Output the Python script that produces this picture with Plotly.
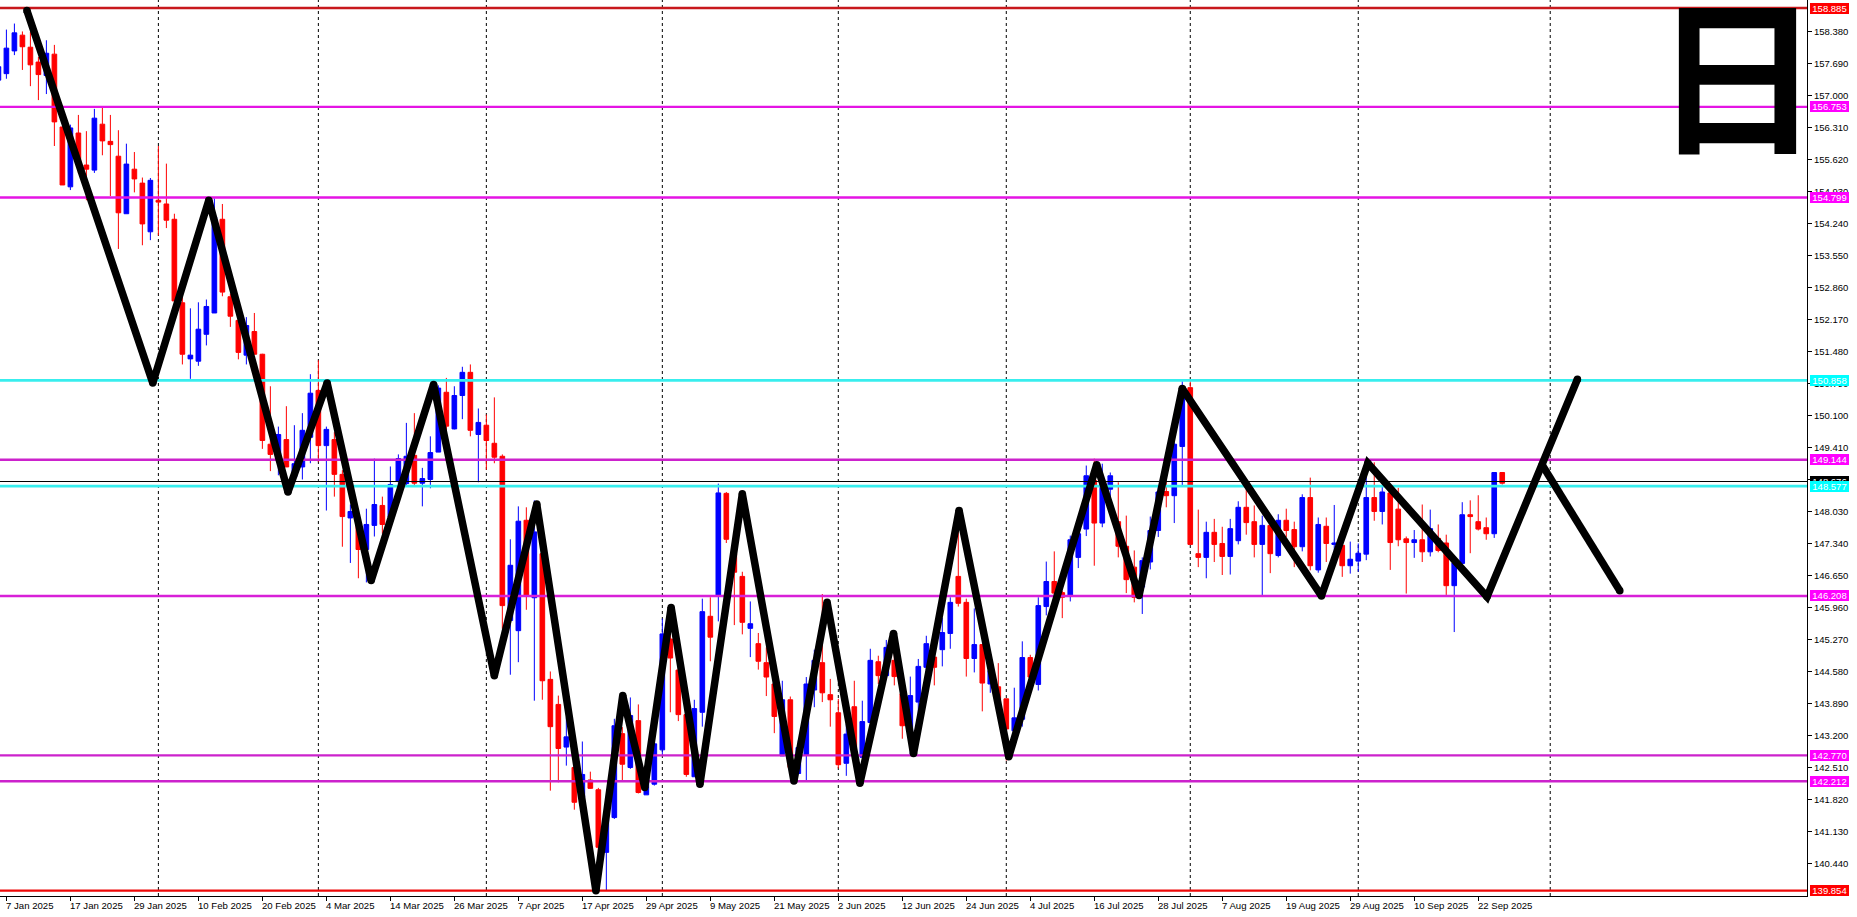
import plotly.graph_objects as go

bars = list(range(-1, 188))
opens = [157.33,
157.47,157.96,158.30,158.04,157.72,157.43,157.89,156.32,155.03,156.19,
155.50,155.39,156.38,156.01,155.69,154.45,155.41,155.11,154.06,154.74,
154.66,154.33,152.53,151.32,151.27,151.85,152.31,154.33,152.66,152.15,
151.40,151.91,151.42,149.48,149.13,149.58,148.77,148.99,149.63,150.64,
149.45,149.58,148.83,147.89,147.76,147.21,147.73,148.16,147.91,148.68,
148.63,149.24,148.64,148.72,149.31,150.60,149.81,150.53,151.03,149.69,
149.89,149.50,149.22,145.68,145.46,147.84,146.17,147.12,144.41,143.87,
142.95,142.51,141.87,142.24,142.03,140.68,141.43,143.24,142.51,143.52,
141.92,142.15,142.89,145.28,144.61,143.65,142.31,143.70,145.77,146.22,
148.42,147.12,146.63,145.51,145.18,144.77,144.31,142.76,143.97,142.38,
142.79,144.18,144.77,144.08,143.69,142.60,143.82,142.73,143.48,144.79,
144.49,144.82,144.10,143.16,143.92,144.67,144.89,145.05,145.40,146.63,
146.07,144.86,145.16,144.31,144.25,143.99,143.30,143.55,144.88,144.30,
145.98,146.52,146.28,146.22,147.04,147.65,148.70,147.78,148.51,147.81,
147.28,146.83,146.40,146.94,147.62,148.46,148.37,149.43,150.70,147.12,
147.04,147.58,147.34,147.06,147.40,148.12,147.81,147.32,147.73,147.08,
147.84,147.64,147.27,148.33,146.77,147.71,147.32,147.30,146.86,146.96,
147.11,148.33,148.03,148.43,148.08,147.44,147.36,147.42,147.16,147.45,
147.35,146.43,146.91,147.96,147.81,147.68,147.55,148.87]
highs = [157.62,
158.42,158.55,158.38,158.37,157.83,158.19,158.09,156.32,156.37,156.58,
156.23,156.71,156.74,156.58,156.25,155.96,155.78,155.23,155.22,155.91,
155.53,154.45,152.73,152.41,152.54,152.60,154.78,154.66,152.73,152.22,
152.22,152.31,151.43,150.73,149.86,150.30,149.89,150.15,150.99,151.29,
149.86,149.74,148.92,148.18,147.91,148.09,149.17,148.35,149.00,149.26,
149.94,150.15,148.97,149.65,150.75,150.91,150.73,151.15,151.20,150.25,
150.12,150.49,149.26,147.43,148.14,148.12,148.27,147.84,144.58,144.06,
143.59,143.02,143.07,142.42,142.07,141.79,143.56,143.38,144.02,143.87,
142.58,143.23,145.72,145.46,144.74,143.74,143.97,146.15,146.18,148.63,
148.45,147.19,146.73,146.09,145.41,145.10,144.46,144.38,144.04,143.09,
144.46,145.05,146.25,144.42,143.99,143.45,144.38,143.95,145.07,144.92,
145.26,145.00,144.38,144.47,144.85,145.35,144.96,145.74,146.18,147.69,
146.15,145.94,145.17,144.82,144.76,143.99,144.23,145.23,144.94,146.18,
146.95,147.17,146.32,147.51,147.69,149.02,149.17,149.06,148.87,148.66,
147.94,147.19,147.04,147.92,148.55,148.70,149.60,150.84,150.84,148.07,
147.81,147.87,147.70,147.87,148.25,148.52,148.16,147.94,147.73,147.97,
148.09,147.81,148.40,148.76,147.90,147.90,148.17,147.34,147.38,147.34,
148.81,149.09,148.58,148.47,148.54,147.49,147.63,148.18,148.07,147.75,
147.53,146.96,148.23,148.27,148.38,147.90,148.88,148.87]
lows = [157.12,
157.36,157.87,157.55,157.20,156.90,157.03,155.91,155.07,154.96,155.32,
154.74,155.33,155.71,154.83,153.69,154.45,154.91,153.77,153.88,153.98,
154.14,152.57,151.20,150.89,151.17,151.61,152.31,152.67,152.01,151.31,
151.20,151.42,149.38,148.90,148.81,148.99,148.73,148.72,149.07,149.10,
148.05,148.35,147.27,146.92,146.59,146.50,147.49,147.55,147.76,148.59,
148.59,148.59,148.14,148.53,149.31,149.71,149.80,150.02,149.65,148.66,
148.93,149.07,145.50,144.51,144.78,145.91,143.95,143.97,142.01,142.19,
142.55,141.60,141.72,142.05,139.84,139.85,141.40,142.23,142.48,141.95,
141.92,142.12,142.77,143.70,143.51,142.31,142.31,143.39,144.80,145.66,
147.35,145.58,145.38,144.89,144.62,144.05,143.25,142.76,142.44,142.37,
142.23,143.81,143.92,143.39,142.49,142.33,142.73,142.73,143.48,144.31,
144.49,144.28,143.13,142.80,143.66,144.60,144.28,144.69,145.07,145.98,
144.47,144.56,143.72,144.12,143.66,142.66,143.30,143.39,144.38,144.17,
145.79,146.11,145.73,146.09,146.81,147.50,146.86,147.69,148.30,147.04,
146.27,146.07,145.82,146.78,147.48,148.12,147.78,148.59,147.32,146.83,
146.59,146.94,146.66,146.67,147.32,147.53,147.04,146.21,146.70,147.04,
147.48,146.83,147.17,146.76,146.71,146.94,146.85,146.62,146.69,146.73,
146.98,147.83,147.75,146.77,147.28,146.26,147.03,146.94,147.06,147.15,
146.23,145.43,146.88,147.13,147.62,147.42,147.46,148.61]
closes = [157.62,
158.02,158.35,158.05,157.66,157.45,157.91,156.43,155.07,156.30,155.53,
155.41,156.51,156.02,155.94,154.47,155.52,155.20,154.23,155.17,154.70,
154.31,152.57,151.42,151.40,151.96,152.45,154.38,152.76,152.24,151.46,
152.04,151.42,149.56,149.26,149.69,148.99,149.06,149.78,150.58,149.45,
149.80,148.83,147.92,148.03,147.21,147.75,148.18,147.75,148.61,149.17,
149.22,148.64,148.74,149.30,150.69,149.87,150.53,151.03,149.78,149.95,
149.56,149.20,146.00,146.87,147.82,146.20,147.59,144.38,143.39,142.92,
143.17,141.76,142.36,142.06,140.79,141.54,143.41,142.58,143.63,141.97,
142.44,143.02,145.39,144.87,143.65,142.36,143.78,145.87,145.32,148.43,
147.43,146.72,145.64,145.61,144.80,144.46,143.61,143.97,142.51,142.94,
144.31,144.82,144.12,143.97,142.57,143.23,142.94,143.50,144.82,144.49,
145.10,144.47,143.41,144.06,144.69,145.18,144.67,145.42,146.07,146.05,
144.86,145.16,144.33,144.60,143.81,143.34,143.58,144.88,144.46,146.00,
146.52,146.27,146.18,147.42,147.55,148.80,147.78,148.63,148.80,147.28,
146.56,146.18,146.97,147.62,148.45,148.37,149.48,150.71,147.32,147.04,
147.58,147.32,147.06,147.66,148.12,147.79,147.32,147.73,147.12,147.84,
147.62,147.27,148.33,146.86,147.75,147.34,147.35,146.86,147.00,147.13,
148.33,148.03,148.45,147.36,147.42,147.36,147.42,147.16,147.66,147.19,
146.43,146.92,147.96,147.92,147.65,147.55,148.87,148.64]

date_ticks = list(range(0, 185, 8))
date_labels = ["7 Jan 2025", "17 Jan 2025", "29 Jan 2025", "10 Feb 2025", "20 Feb 2025",
               "4 Mar 2025", "14 Mar 2025", "26 Mar 2025", "7 Apr 2025", "17 Apr 2025",
               "29 Apr 2025", "9 May 2025", "21 May 2025", "2 Jun 2025", "12 Jun 2025",
               "24 Jun 2025", "4 Jul 2025", "16 Jul 2025", "28 Jul 2025", "7 Aug 2025",
               "19 Aug 2025", "29 Aug 2025", "10 Sep 2025", "22 Sep 2025"]
month_starts = [19, 39, 60, 82, 104, 125, 148, 169, 193]

price_ticks = [159.07, 158.38, 157.69, 157.00, 156.31, 155.62, 154.93, 154.24, 153.55,
               152.86, 152.17, 151.48, 150.79, 150.10, 149.41, 148.72, 148.03, 147.34,
               146.65, 145.96, 145.27, 144.58, 143.89, 143.20, 142.51, 141.82, 141.13, 140.44]

level_values = [158.885, 156.753, 154.799, 150.858, 149.144, 148.676, 148.577, 146.208, 142.770, 142.212, 139.854]
level_colors = ["#c8181c", "#e414e4", "#e414e4", "#38eeee", "#cc22cc", "#000000", "#38eeee",
                "#d820d8", "#cc22cc", "#cc22cc", "#ee0808"]
level_widths = [2.4, 2.4, 2.4, 2.8, 2.4, 1, 2.8, 2.4, 2.4, 2.4, 2.4]
tag_colors = ["#ff0000", "#ff00ff", "#ff00ff", "#00ffff", "#ff00ff", "#000000", "#00ffff",
              "#ff00ff", "#ff00ff", "#ff00ff", "#ff0000"]

zigzag_x = [2.56, 18.3, 25.3, 35.2, 40.1, 45.6, 53.4, 61, 66.3, 73.7, 77.05, 79.8, 83.1, 86.7, 92,
            98.45, 102.6, 106.7, 110.9, 113.4, 119.1, 125.3, 136.3, 141.6, 147, 164.4, 170.2, 185.1, 196.4]
zigzag_y = [158.83, 150.80, 154.74, 148.45, 150.80, 146.54, 150.77, 144.49, 148.19, 139.85, 144.06,
            142.08, 145.96, 142.15, 148.41, 142.22, 146.07, 142.17, 145.40, 142.81, 148.05, 142.74,
            149.04, 146.22, 150.68, 146.21, 149.07, 146.19, 150.88]
branch_x = [192, 201.7]
branch_y = [149.03, 146.32]

FONT = "Liberation Sans, Arial, sans-serif"
X_RANGE = [-0.8, 225.1]
Y_RANGE = [139.739, 159.058]

fig = go.Figure()
fig.add_trace(go.Candlestick(
    x=bars, open=opens, high=highs, low=lows, close=closes,
    increasing=dict(line=dict(color="#0000ff", width=1), fillcolor="#0000ff"),
    decreasing=dict(line=dict(color="#ff0000", width=1), fillcolor="#ff0000"),
    whiskerwidth=0, showlegend=False, hoverinfo="skip",
))
for value, color, width in zip(level_values, level_colors, level_widths):
    fig.add_trace(go.Scatter(x=X_RANGE, y=[value, value], mode="lines",
                             line=dict(color=color, width=width),
                             showlegend=False, hoverinfo="skip"))
for xs, ys in ((zigzag_x, zigzag_y), (branch_x, branch_y)):
    fig.add_trace(go.Scatter(x=xs, y=ys, mode="lines+markers",
                             line=dict(color="#000000", width=7.5),
                             marker=dict(color="#000000", size=7.5),
                             showlegend=False, hoverinfo="skip"))

shapes = [dict(type="line", xref="x", yref="paper", x0=m, x1=m, y0=0, y1=1, layer="below",
               line=dict(color="#000000", width=1, dash="3px,3px")) for m in month_starts]

annotations = []
for tick, label in zip(date_ticks, date_labels):
    annotations.append(dict(text=label, x=tick, xref="x", y=0, yref="paper",
                            xanchor="left", yanchor="top", xshift=-2, yshift=-2, showarrow=False,
                            font=dict(family=FONT, size=9.6, color="#000000")))
for value, color in zip(level_values, tag_colors):
    annotations.append(dict(text=f"{value:.3f}", x=1, xref="paper", y=value, yref="y",
                            xanchor="left", yanchor="middle", xshift=3, width=39, height=11,
                            borderpad=0, borderwidth=0, bgcolor=color, showarrow=False,
                            font=dict(family=FONT, size=9.5, color="#ffffff")))
annotations.append(dict(text="日", x=1737 / 1807, xref="paper", y=1, yref="paper",
                        xanchor="center", yanchor="top", height=180, width=130, yshift=24,
                        showarrow=False, borderpad=0,
                        font=dict(family="Noto Sans CJK JP", size=168, color="#000000", weight=700)))

fig.update_layout(
    width=1857, height=917,
    margin=dict(l=0, r=50, t=0, b=21),
    paper_bgcolor="#ffffff", plot_bgcolor="#ffffff",
    boxgap=0.42, boxgroupgap=0,
    showlegend=False, shapes=shapes, annotations=annotations,
    xaxis=dict(range=X_RANGE, showgrid=False, zeroline=False, rangeslider=dict(visible=False),
               tickmode="array", tickvals=date_ticks, showticklabels=False,
               ticks="outside", ticklen=4, tickwidth=1, tickcolor="#000000",
               showline=True, linecolor="#000000", linewidth=1),
    yaxis=dict(range=Y_RANGE, side="right", showgrid=False, zeroline=False,
               tickmode="array", tickvals=price_ticks,
               ticktext=[f"{t:.3f}" for t in price_ticks],
               ticks="outside", ticklen=4, tickwidth=1, tickcolor="#000000",
               showline=True, linecolor="#000000", linewidth=1,
               tickfont=dict(family=FONT, size=9.5, color="#000000")),
)

fig.write_html("out.html", config={"displayModeBar": False},
               post_script="document.body.style.margin='0';")
